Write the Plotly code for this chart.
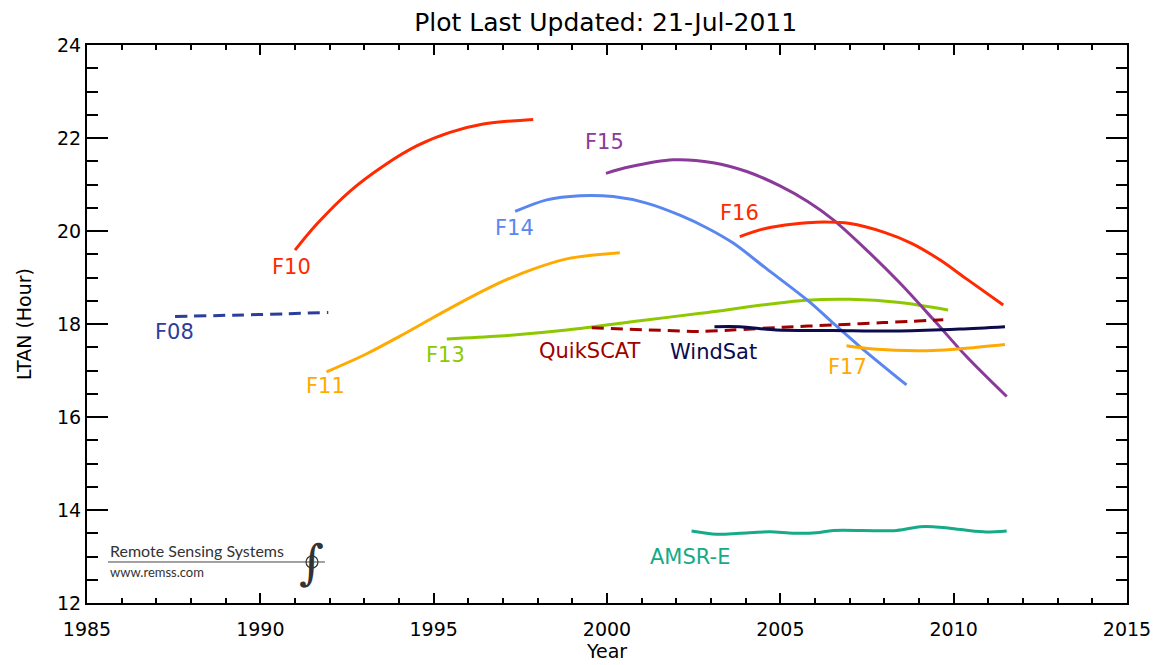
import plotly.graph_objects as go

# ---------------- data ----------------
f08_x = [1987.54, 1989.22, 1990.76, 1991.96]
f08_y = [18.16, 18.19, 18.22, 18.25]

f10_x = [1991.0, 1991.63, 1992.59, 1993.55, 1994.51, 1995.47, 1996.43, 1997.87]
f10_y = [19.59, 20.15, 20.86, 21.40, 21.83, 22.12, 22.30, 22.40]

f11_x = [1991.91, 1993.07, 1994.03, 1994.99, 1995.95, 1996.91, 1997.87, 1998.84, 2000.37]
f11_y = [16.97, 17.36, 17.74, 18.14, 18.53, 18.89, 19.18, 19.40, 19.53]

f13_x = [1995.38, 1996.91, 1998.84, 2000.95, 2002.70, 2004.72, 2005.73, 2007.01, 2008.45, 2009.84]
f13_y = [17.68, 17.74, 17.87, 18.07, 18.23, 18.43, 18.51, 18.53, 18.46, 18.30]

f14_x = [1997.35, 1998.26, 1999.22, 2000.18, 2001.14, 2002.10, 2002.90, 2003.64, 2004.60, 2005.85, 2006.52, 2007.30, 2008.64]
f14_y = [20.42, 20.67, 20.76, 20.74, 20.60, 20.34, 20.06, 19.74, 19.19, 18.47, 18.02, 17.51, 16.69]

f15_x = [1999.97, 2000.66, 2001.91, 2003.06, 2004.03, 2004.99, 2005.80, 2006.53, 2007.49, 2008.45, 2009.41, 2010.37, 2011.53]
f15_y = [21.24, 21.38, 21.53, 21.47, 21.28, 20.97, 20.63, 20.24, 19.59, 18.88, 18.10, 17.30, 16.44]

f16_x = [2003.83, 2004.60, 2005.40, 2006.04, 2007.01, 2008.00, 2008.80, 2009.60, 2010.37, 2011.43]
f16_y = [19.88, 20.06, 20.15, 20.19, 20.16, 19.97, 19.73, 19.38, 18.97, 18.41]

f17_x = [2006.91, 2007.68, 2009.41, 2010.37, 2011.48]
f17_y = [17.53, 17.46, 17.43, 17.48, 17.56]

qscat_x = [1999.56, 2001.68, 2002.68, 2003.6, 2005.08, 2006.53, 2007.97, 2009.70]
qscat_y = [17.92, 17.86, 17.84, 17.87, 17.93, 17.98, 18.03, 18.09]

wsat_x = [2003.10, 2003.83, 2004.89, 2006.53, 2008.45, 2010.18, 2011.48]
wsat_y = [17.94, 17.94, 17.87, 17.86, 17.85, 17.89, 17.94]

amsre_x = [2002.44, 2003.16, 2003.83, 2004.70, 2005.37, 2006.04, 2006.53, 2008.35, 2009.03, 2009.41, 2009.89, 2010.85, 2011.53]
amsre_y = [13.55, 13.48, 13.50, 13.53, 13.50, 13.51, 13.56, 13.56, 13.64, 13.64, 13.61, 13.53, 13.55]

# label text and anchor positions (data coords)
label_names = ["F10", "F08", "F11", "F13", "F14", "F15", "F16", "QuikSCAT", "WindSat", "F17", "AMSR-E"]
label_x = [1990.91, 1987.51, 1991.89, 1995.35, 1997.32, 1999.94, 2003.81, 1999.51, 2003.06, 2006.95, 2002.39]
label_y = [19.23, 17.83, 16.67, 17.33, 20.06, 21.91, 20.39, 17.42, 17.40, 17.08, 12.99]

x_ticks = [1985, 1990, 1995, 2000, 2005, 2010, 2015]
y_ticks = [12, 14, 16, 18, 20, 22, 24]

# ---------------- styles ----------------
C_RED = "#FF2A00"
C_ORANGE = "#FFAA00"
colors = {
    "F08": "#2B3E9C", "F10": C_RED, "F11": C_ORANGE, "F13": "#8DC800",
    "F14": "#5A86F0", "F15": "#8A3A98", "F16": C_RED, "F17": C_ORANGE,
    "QuikSCAT": "#A00000", "WindSat": "#0B0B4E", "AMSR-E": "#16AA88",
}

series = [
    ("F08", f08_x, f08_y, "12px,7px"),
    ("F10", f10_x, f10_y, "solid"),
    ("F11", f11_x, f11_y, "solid"),
    ("F13", f13_x, f13_y, "solid"),
    ("F14", f14_x, f14_y, "solid"),
    ("F15", f15_x, f15_y, "solid"),
    ("F16", f16_x, f16_y, "solid"),
    ("QuikSCAT", qscat_x, qscat_y, "12px,7px"),
    ("WindSat", wsat_x, wsat_y, "solid"),
    ("F17", f17_x, f17_y, "solid"),
    ("AMSR-E", amsre_x, amsre_y, "solid"),
]

fig = go.Figure()
for name, xs, ys, dash in series:
    fig.add_trace(go.Scatter(
        x=xs, y=ys, mode="lines", name=name,
        line=dict(color=colors[name], width=3, dash=dash, shape="spline", smoothing=0.9),
        showlegend=False, hoverinfo="skip",
    ))

FONT = "DejaVu Sans"
for name, lx, ly in zip(label_names, label_x, label_y):
    fig.add_annotation(x=lx, y=ly, text=name, showarrow=False,
                       font=dict(family=FONT, size=21, color=colors[name]),
                       xanchor="center", yanchor="middle")

# ---------------- logo (decoration, paper coords) ----------------
fig.add_annotation(xref="paper", yref="paper", x=0.0202, y=0.094, text="Remote Sensing Systems",
                   showarrow=False, xanchor="left", yanchor="middle",
                   font=dict(family="Lato", size=16, color="#333333"))
fig.add_annotation(xref="paper", yref="paper", x=0.0202, y=0.055, text="www.remss.com",
                   showarrow=False, xanchor="left", yanchor="middle",
                   font=dict(family="Lato", size=13, color="#333333"))
fig.add_shape(type="line", xref="paper", yref="paper", x0=0.0202, x1=0.2288, y0=0.0735, y1=0.0735,
              line=dict(color="#444444", width=1))
fig.add_shape(type="circle", xref="paper", yref="paper", x0=0.2106, x1=0.2221, y0=0.0627, y1=0.0843,
              line=dict(color="#333333", width=1.2))
fig.add_annotation(xref="paper", yref="paper", x=0.2163, y=0.0735, text="∫",
                   showarrow=False, xanchor="center", yanchor="middle",
                   font=dict(family="DejaVu Serif", size=48, color="#333333"))

# ---------------- layout ----------------
fig.update_layout(
    width=1167, height=665,
    margin=dict(l=87, r=40, t=45, b=62, autoexpand=False),
    paper_bgcolor="white", plot_bgcolor="white",
    title=dict(text="Plot Last Updated: 21-Jul-2011", x=0.519, xanchor="center",
               y=0.966, yanchor="middle",
               font=dict(family=FONT, size=25, color="black")),
    font=dict(family=FONT, color="black"),
)
fig.update_xaxes(
    range=[1985, 2015], tickvals=x_ticks, ticktext=[str(v) for v in x_ticks],
    ticks="inside", ticklen=10, tickwidth=2, tickcolor="black",
    minor=dict(dtick=1, ticks="inside", ticklen=5, tickwidth=2, tickcolor="black"),
    showline=True, linecolor="black", linewidth=2, mirror="ticks",
    showgrid=False, zeroline=False, automargin=False, ticklabelstandoff=8,
    tickfont=dict(family=FONT, size=19, color="black"),
    title=dict(text="Year", font=dict(family=FONT, size=19, color="black"), standoff=6),
)
fig.update_yaxes(
    range=[12, 24], tickvals=y_ticks, ticktext=[str(v) for v in y_ticks],
    ticks="inside", ticklen=21, tickwidth=2, tickcolor="black",
    minor=dict(dtick=0.5, ticks="inside", ticklen=11, tickwidth=2, tickcolor="black"),
    showline=True, linecolor="black", linewidth=2, mirror="ticks",
    showgrid=False, zeroline=False, automargin=False,
    tickfont=dict(family=FONT, size=19, color="black"),
    title=dict(text="LTAN (Hour)", font=dict(family=FONT, size=19, color="black"), standoff=20),
)

fig.write_html("out.html", config={"displayModeBar": False},
               post_script="document.body.style.margin='0';")
